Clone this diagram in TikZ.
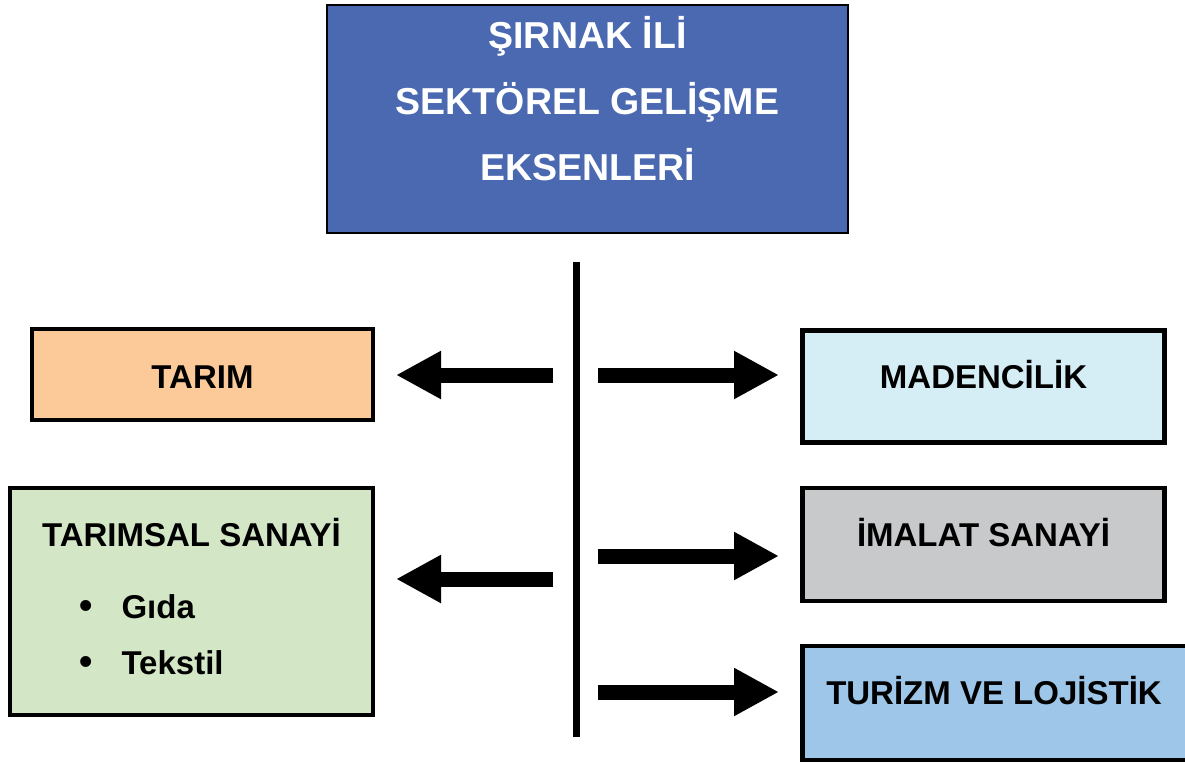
\documentclass[tikz,border=0pt]{standalone}
\usepackage{fontspec}
\setmainfont{Liberation Sans}
\usetikzlibrary{arrows.meta}
\definecolor{titleblue}{HTML}{4A69B0}
\definecolor{peach}{HTML}{FBCA98}
\definecolor{cyanlight}{HTML}{D5EDF4}
\definecolor{greenlight}{HTML}{D3E7C6}
\definecolor{graybox}{HTML}{C8C9CB}
\definecolor{bluebox}{HTML}{9DC6E8}
\tikzset{
  box/.style={draw=black, line width=4.5pt, inner sep=0pt, outer sep=0pt},
  lbl/.style={font=\fontsize{33}{37}\selectfont\bfseries, inner sep=0pt, anchor=base},
  ttl/.style={font=\fontsize{37.5}{41}\selectfont\bfseries, text=white, inner sep=0pt, anchor=base},
  blockarrow/.style={line width=15pt, -{Triangle[length=45pt,width=45pt]}},
}
\begin{document}
\begin{tikzpicture}[x=1pt,y=-1pt]
\useasboundingbox (0,0) rectangle (1185,765);
% title
\node[draw=black, line width=2pt, fill=titleblue, minimum width=521pt, minimum height=228pt, inner sep=0pt] (title) at (587.5,119) {};
\node[ttl] (t1) at (587.5,49) {ŞIRNAK İLİ};
\node[ttl] (t2) at (587.5,115) {SEKTÖREL GELİŞME};
\node[ttl] (t3) at (587.5,180) {EKSENLERİ};
% axis
\coordinate (axtop) at (576.5,262);
\coordinate (axbot) at (576.5,737);
\draw[line width=6.5pt] (axtop) -- (axbot);
% boxes
\node[box, fill=peach, minimum width=341pt, minimum height=91pt] (tarim) at (202.5,374.5) {};
\node[lbl] (tarimL) at (202.5,388) {TARIM};
\node[box, fill=cyanlight, minimum width=362pt, minimum height=112pt] (maden) at (983.5,386.5) {};
\node[lbl] (madenL) at (983.5,388) {MADENCİLİK};
\node[box, fill=greenlight, minimum width=363pt, minimum height=227pt] (tsan) at (191.5,601.5) {};
\node[lbl] (tsanL) at (191.5,546) {TARIMSAL SANAYİ};
\node[lbl, anchor=base west] (gida) at (79,618) {\fontsize{38}{38}\selectfont•\hspace{29pt}\fontsize{33}{37}\selectfont Gıda};
\node[lbl, anchor=base west] (tekstil) at (79,674) {\fontsize{38}{38}\selectfont•\hspace{29pt}\fontsize{33}{37}\selectfont Tekstil};
\node[box, fill=graybox, minimum width=362pt, minimum height=113pt] (imalat) at (983.5,544.5) {};
\node[lbl] (imalatL) at (983.5,546) {İMALAT SANAYİ};
\node[box, fill=bluebox, minimum width=388pt, minimum height=114pt] (turizm) at (996.5,703) {};
\node[lbl] (turizmL) at (994,704) {TURİZM VE LOJİSTİK};
% arrows
\coordinate (l1s) at (553,375); \coordinate (l1e) at (396,375);
\coordinate (l2s) at (553,579); \coordinate (l2e) at (396,579);
\coordinate (r1s) at (598,375); \coordinate (r1e) at (779,375);
\coordinate (r2s) at (598,556); \coordinate (r2e) at (779,556);
\coordinate (r3s) at (598,692); \coordinate (r3e) at (779,692);
\draw[blockarrow] (l1s) -- (l1e);
\draw[blockarrow] (l2s) -- (l2e);
\draw[blockarrow] (r1s) -- (r1e);
\draw[blockarrow] (r2s) -- (r2e);
\draw[blockarrow] (r3s) -- (r3e);
\end{tikzpicture}
\end{document}
